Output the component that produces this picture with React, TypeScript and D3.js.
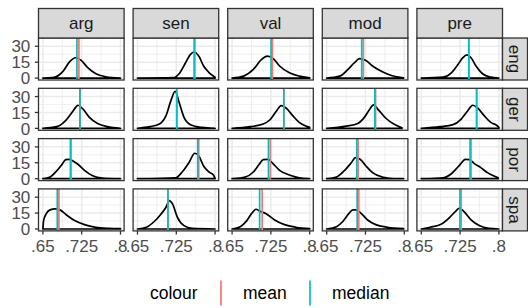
import React from 'react';
import * as d3 from 'd3';

// ---------- data ----------
const rowLabels = ['eng', 'ger', 'por', 'spa'];
const colLabels = ['arg', 'sen', 'val', 'mod', 'pre'];
const xTickValues = [0.65, 0.725, 0.8];
const xTickLabels = ['.65', '.725', '.8'];
const xMinorValues = [0.6875, 0.7625];
const yTickValues = [0, 15, 30];
const yTickLabels = ['0', '15', '30'];
const yMinorValues = [7.5, 22.5];
const legendTitle = 'colour';
const legendLabels = ['mean', 'median'];

// mean / median per row, columns in colLabels order
const meanEng = [0.7196, 0.761, 0.7278, 0.7209, 0.742];
const medianEng = [0.7158, 0.7595, 0.7253, 0.7177, 0.7418];
const meanGer = [0.722, 0.7259, 0.75, 0.7445, 0.757];
const medianGer = [0.7215, 0.7259, 0.75, 0.743, 0.757];
const meanPor = [0.7044, 0.7684, 0.724, 0.7108, 0.7462];
const medianPor = [0.7032, 0.7665, 0.7203, 0.7082, 0.7443];
const meanSpa = [0.681, 0.7089, 0.7082, 0.712, 0.7272];
const medianSpa = [0.6778, 0.7089, 0.7032, 0.7089, 0.7247];

type P = [number, number];
// density curves (x, density)
const dEngArg: P[] = [[0.65, 0], [0.66, 0.2], [0.6734, 1], [0.6892, 6.6], [0.7019, 15.5], [0.7133, 19.2], [0.7241, 16.7], [0.7367, 9.8], [0.7525, 4], [0.7715, 1.3], [0.8, 0]];
const dEngSen: P[] = [[0.65, 0], [0.72, 0.4], [0.7304, 4.1], [0.743, 14.5], [0.7525, 22.4], [0.7589, 24.6], [0.7684, 20.8], [0.7778, 11.4], [0.7873, 5.7], [0.7968, 1.9], [0.8, 0.8]];
const dEngVal: P[] = [[0.65, 0], [0.6722, 1.9], [0.6911, 8.2], [0.707, 17.7], [0.7184, 20.8], [0.7291, 18.6], [0.7418, 11.4], [0.7608, 5], [0.7797, 1.9], [0.8, 0.3]];
const dEngMod: P[] = [[0.65, 0], [0.6753, 1.9], [0.6911, 8.2], [0.7038, 14.5], [0.7133, 18.3], [0.7259, 16.7], [0.7386, 11.4], [0.7576, 6], [0.7766, 2.2], [0.7987, 0.3]];
const dEngPre: P[] = [[0.65, 0], [0.6924, 0.9], [0.7082, 5], [0.7209, 12.9], [0.7304, 19.2], [0.738, 21.8], [0.7462, 19.2], [0.7557, 11.4], [0.7684, 4.1], [0.7842, 0.9], [0.8, 0]];

const dGerArg: P[] = [[0.65, 0], [0.6766, 1.6], [0.6924, 6.6], [0.7051, 14.2], [0.7146, 20.5], [0.7177, 21.8], [0.7272, 18.3], [0.7399, 10.4], [0.7557, 4.7], [0.7747, 1.6], [0.8, 0]];
const dGerSen: P[] = [[0.65, 0], [0.6734, 1.6], [0.6924, 4.1], [0.7051, 12], [0.7146, 26.2], [0.7228, 35], [0.7304, 24.6], [0.7399, 10.4], [0.7525, 3.5], [0.7747, 0.9], [0.8, 0]];
const dGerVal: P[] = [[0.65, 0], [0.6848, 1.6], [0.7101, 4.1], [0.7228, 7.9], [0.7354, 16.1], [0.7449, 21.5], [0.7544, 19.2], [0.7671, 12], [0.7797, 5.7], [0.7924, 2.2], [0.8, 0.9]];
const dGerMod: P[] = [[0.65, 0], [0.688, 2.2], [0.7101, 4.7], [0.7228, 10.4], [0.7323, 17.4], [0.7405, 22.1], [0.7513, 16.7], [0.7639, 9.8], [0.7797, 4.1], [0.7956, 0.6]];
const dGerPre: P[] = [[0.65, 0], [0.6861, 1.6], [0.7114, 3.5], [0.7272, 8.8], [0.7399, 16.7], [0.7494, 21.8], [0.7589, 19.2], [0.7715, 12], [0.7842, 5.7], [0.7968, 2.5], [0.8, 1]];

const dPorArg: P[] = [[0.65, 0], [0.6639, 1.6], [0.6766, 7.3], [0.6861, 12.9], [0.6943, 18], [0.7006, 18.3], [0.7082, 16.7], [0.7177, 13.6], [0.7304, 7.9], [0.7462, 2.8], [0.7652, 0.6], [0.8, 0]];
const dPorSen: P[] = [[0.65, 0], [0.724, 0.9], [0.7367, 6.6], [0.7494, 15.1], [0.7608, 24], [0.7684, 21.5], [0.7778, 12], [0.7873, 6.6], [0.7968, 3.5], [0.8, 0.3]];
const dPorVal: P[] = [[0.65, 0], [0.6753, 1.6], [0.6911, 6.3], [0.7025, 13.6], [0.7101, 18], [0.7196, 18.3], [0.7291, 14.2], [0.7418, 7.9], [0.7608, 3.5], [0.7797, 0.9], [0.8, 0]];
const dPorMod: P[] = [[0.65, 0], [0.669, 1.6], [0.6848, 7.9], [0.6975, 15.1], [0.7057, 19.9], [0.7146, 18.3], [0.7259, 12], [0.7386, 5.7], [0.7576, 1.6], [0.7797, 0.2], [0.7987, 0]];
const dPorPre: P[] = [[0.65, 0], [0.6924, 0.9], [0.7082, 4.7], [0.7228, 12], [0.7354, 18.3], [0.743, 18], [0.7525, 14.2], [0.7652, 10.4], [0.7778, 5.7], [0.7905, 2.5], [0.7987, 0.9]];

const dSpaArg: P[] = [[0.65, 0], [0.6513, 7.9], [0.6563, 14.2], [0.6639, 18], [0.6734, 18.9], [0.6829, 18], [0.6956, 13.2], [0.7114, 7.9], [0.7304, 4.1], [0.7525, 1.6], [0.7778, 0.6], [0.8, 0.3]];
const dSpaSen: P[] = [[0.65, 0], [0.6671, 1.6], [0.6829, 7.3], [0.6956, 14.2], [0.7051, 20.5], [0.7114, 26.8], [0.7177, 23.7], [0.7272, 11], [0.7399, 3.2], [0.7557, 0.6], [0.8, 0]];
const dSpaVal: P[] = [[0.65, 0], [0.6658, 2.2], [0.6785, 7.9], [0.688, 14.8], [0.6962, 18.6], [0.7038, 16.7], [0.7165, 14.2], [0.7323, 8.5], [0.7513, 4.1], [0.7734, 1.6], [0.8, 0.3]];
const dSpaMod: P[] = [[0.65, 0], [0.669, 2.2], [0.6816, 7.3], [0.6924, 14.2], [0.7006, 18], [0.707, 18], [0.7165, 14.8], [0.7291, 8.5], [0.7449, 4.1], [0.7671, 1.6], [0.7987, 0.3]];
const dSpaPre: P[] = [[0.65, 0], [0.6671, 1.6], [0.6892, 4.7], [0.7051, 11], [0.7177, 17.4], [0.724, 19.6], [0.7335, 15.8], [0.7462, 8.5], [0.762, 3.2], [0.781, 0.6], [0.8, 0]];

const densities: P[][][] = [
  [dEngArg, dEngSen, dEngVal, dEngMod, dEngPre],
  [dGerArg, dGerSen, dGerVal, dGerMod, dGerPre],
  [dPorArg, dPorSen, dPorVal, dPorMod, dPorPre],
  [dSpaArg, dSpaSen, dSpaVal, dSpaMod, dSpaPre],
];
const means = [meanEng, meanGer, meanPor, meanSpa];
const medians = [medianEng, medianGer, medianPor, medianSpa];

// ---------- layout ----------
const W = 528;
const H = 308;
const panelLeft0 = 38.5;
const panelW = 85.6;
const colStep = 94.6;
const panelTop0 = 38;
const panelH = 42;
const rowStep = 50.3;
const stripTop = 8.5;
const rightStripW = 25;
const tickLen = 3.7;
const FONT = "'Liberation Sans', Arial, Helvetica, sans-serif";
const MEAN_COL = '#F8766D';
const MEDIAN_COL = '#00BFC4';

const x = d3.scaleLinear().domain([0.6415, 0.807]).range([0, panelW]);
const y = d3.scaleLinear().domain([-1.8, 37.8]).range([panelH, 0]);

const line = d3
  .line<P>()
  .x((d) => x(d[0]))
  .y((d) => y(d[1]))
  .curve(d3.curveMonotoneX);

function densityPath(pts: P[]): string {
  const first = pts[0];
  const last = pts[pts.length - 1];
  const top = line(pts) || '';
  return `${top}L${x(last[0])},${y(0)}L${x(first[0])},${y(0)}Z`;
}

export default function App() {
  const nRows = rowLabels.length;
  const nCols = colLabels.length;
  const panelsRight = panelLeft0 + (nCols - 1) * colStep + panelW;
  const panelsBottom = panelTop0 + (nRows - 1) * rowStep + panelH;

  const legendY = 293;
  const keyH = 25;

  return (
    <svg
      width={W}
      height={H}
      style={{ position: 'absolute', left: 0, top: 0, background: '#fff' }}
      fontFamily={FONT}
    >
      <rect x={0} y={0} width={W} height={H} fill="#fff" />
      {rowLabels.map((rl, r) =>
        colLabels.map((cl, c) => {
          const left = panelLeft0 + c * colStep;
          const top = panelTop0 + r * rowStep;
          return (
            <g key={`${rl}-${cl}`} transform={`translate(${left},${top})`}>
              <rect x={0} y={0} width={panelW} height={panelH} fill="#fff" />
              {xMinorValues.map((v) => (
                <line key={`xm${v}`} x1={x(v)} x2={x(v)} y1={0} y2={panelH} stroke="#EBEBEB" strokeWidth={0.8} />
              ))}
              {yMinorValues.map((v) => (
                <line key={`ym${v}`} x1={0} x2={panelW} y1={y(v)} y2={y(v)} stroke="#EBEBEB" strokeWidth={0.8} />
              ))}
              {xTickValues.map((v) => (
                <line key={`xM${v}`} x1={x(v)} x2={x(v)} y1={0} y2={panelH} stroke="#EBEBEB" strokeWidth={1.5} />
              ))}
              {yTickValues.map((v) => (
                <line key={`yM${v}`} x1={0} x2={panelW} y1={y(v)} y2={y(v)} stroke="#EBEBEB" strokeWidth={1.5} />
              ))}
              <path d={densityPath(densities[r][c])} fill="none" stroke="#000" strokeWidth={1.7} strokeLinejoin="round" />
              <line x1={x(means[r][c])} x2={x(means[r][c])} y1={0} y2={panelH} stroke={MEAN_COL} strokeWidth={1.7} />
              <line x1={x(medians[r][c])} x2={x(medians[r][c])} y1={0} y2={panelH} stroke={MEDIAN_COL} strokeWidth={1.7} />
              <rect x={0} y={0} width={panelW} height={panelH} fill="none" stroke="#333333" strokeWidth={1.3} />
            </g>
          );
        })
      )}

      {/* top strips */}
      {colLabels.map((cl, c) => {
        const left = panelLeft0 + c * colStep;
        return (
          <g key={`strip-${cl}`}>
            <rect x={left} y={stripTop} width={panelW} height={panelTop0 - stripTop} fill="#D9D9D9" stroke="#333333" strokeWidth={1.3} />
            <text x={left + panelW / 2} y={(stripTop + panelTop0) / 2} dy="0.35em" textAnchor="middle" fontSize={17} fill="#1A1A1A">
              {cl}
            </text>
          </g>
        );
      })}

      {/* right strips */}
      {rowLabels.map((rl, r) => {
        const top = panelTop0 + r * rowStep;
        const cx = panelsRight + rightStripW / 2;
        const cy = top + panelH / 2;
        return (
          <g key={`rstrip-${rl}`}>
            <rect x={panelsRight} y={top} width={rightStripW} height={panelH} fill="#D9D9D9" stroke="#333333" strokeWidth={1.3} />
            <text transform={`translate(${cx},${cy}) rotate(90)`} dy="0.35em" textAnchor="middle" fontSize={17} fill="#1A1A1A">
              {rl}
            </text>
          </g>
        );
      })}

      {/* y axes */}
      {rowLabels.map((rl, r) => {
        const top = panelTop0 + r * rowStep;
        return (
          <g key={`yaxis-${rl}`} transform={`translate(${panelLeft0},${top})`}>
            {yTickValues.map((v, i) => (
              <g key={v}>
                <line x1={-tickLen} x2={0} y1={y(v)} y2={y(v)} stroke="#333333" strokeWidth={1.3} />
                <text x={-tickLen - 4.5} y={y(v)} dy="0.36em" textAnchor="end" fontSize={17} fill="#4D4D4D">
                  {yTickLabels[i]}
                </text>
              </g>
            ))}
          </g>
        );
      })}

      {/* x axes */}
      {colLabels.map((cl, c) => {
        const left = panelLeft0 + c * colStep;
        return (
          <g key={`xaxis-${cl}`} transform={`translate(${left},${panelsBottom})`}>
            {xTickValues.map((v, i) => (
              <g key={v}>
                <line x1={x(v)} x2={x(v)} y1={0} y2={tickLen} stroke="#333333" strokeWidth={1.3} />
                <text x={x(v)} y={tickLen + 3} dy="0.82em" textAnchor="middle" fontSize={17} fill="#4D4D4D">
                  {xTickLabels[i]}
                </text>
              </g>
            ))}
          </g>
        );
      })}

      {/* legend */}
      <g>
        <text x={150} y={legendY} dy="0.35em" fontSize={17.5} fill="#000">
          {legendTitle}
        </text>
        {legendLabels.map((lab, i) => {
          const kx = 221 + i * 89;
          return (
            <g key={lab}>
              <line x1={kx} x2={kx} y1={legendY - keyH / 2} y2={legendY + keyH / 2} stroke={i === 0 ? MEAN_COL : MEDIAN_COL} strokeWidth={1.7} />
              <text x={kx + 22} y={legendY} dy="0.35em" fontSize={17.5} fill="#000">
                {lab}
              </text>
            </g>
          );
        })}
      </g>
    </svg>
  );
}
